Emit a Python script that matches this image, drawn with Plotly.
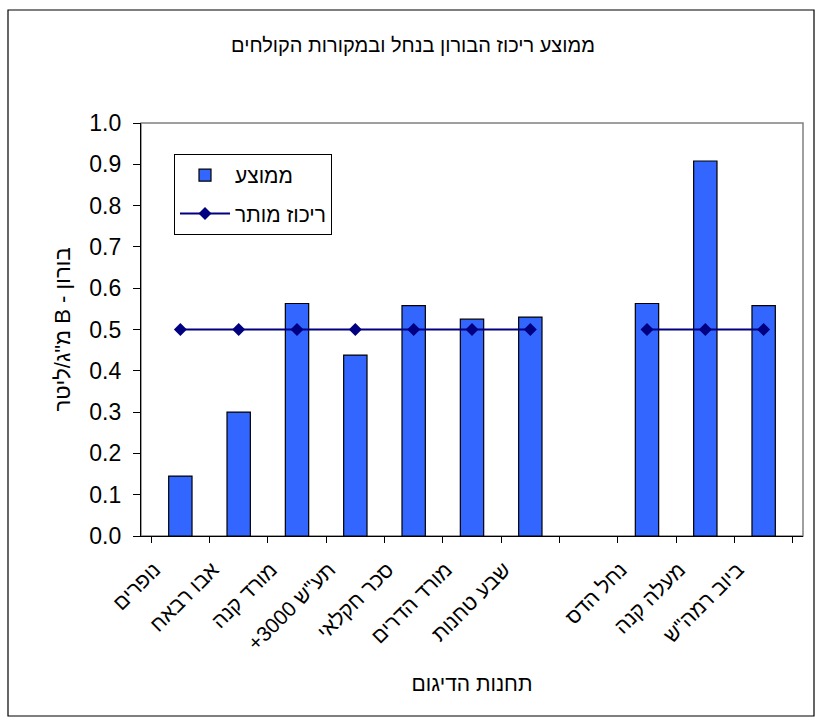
import plotly.graph_objects as go

# Sampling stations (blank slot separates stream stations from effluent sources)
stations = ["נופרים", "אבו רבאח", "מורד קנה", 'תע"ש 3000+', "סכר חקלאי",
            "מורד הדרים", "שבע טחנות", " ", "נחל הדס", "מעלה קנה", 'ביוב רמה"ש']
avg_boron = [0.145, 0.30, 0.563, 0.438, 0.558, 0.525, 0.530, None, 0.563, 0.908, 0.558]
allowed = [0.5, 0.5, 0.5, 0.5, 0.5, 0.5, 0.5, None, 0.5, 0.5, 0.5]
y_ticks = [0.0, 0.1, 0.2, 0.3, 0.4, 0.5, 0.6, 0.7, 0.8, 0.9, 1.0]

title_text = "ממוצע ריכוז הבורון בנחל ובמקורות הקולחים"
y_title = 'בורון - B מ"ג/ליטר'
x_title = "תחנות הדיגום"


def rtl(s):
    # right-to-left embedding so mixed Hebrew/Latin strings read correctly
    return "\u202B" + s + "\u202C"


FONT = "Liberation Sans, Arial, sans-serif"
W, H = 824, 725
L, R, T, B = 141, 21, 123, 189
pw, ph = W - L - R, H - T - B

fig = go.Figure()
fig.add_trace(go.Bar(
    x=stations, y=avg_boron, name="ממוצע", legendgroup="a",
    marker=dict(color="#3366FF", line=dict(color="#000000", width=1.2)),
))
fig.add_trace(go.Scatter(
    x=stations, y=allowed, name=rtl("ריכוז מותר"), mode="lines+markers",
    legendgroup="b",
    line=dict(color="#000080", width=2),
    marker=dict(symbol="diamond", size=10, color="#000080"),
    connectgaps=False,
))

shapes = [
    # plot-area frame
    dict(type="rect", xref="paper", yref="paper", x0=0, x1=1, y0=0, y1=1,
         line=dict(color="#808080", width=1.5), layer="below"),
    # chart-area frame
    dict(type="rect", xref="paper", yref="paper",
         x0=(8 - L) / pw, x1=(814 - L) / pw,
         y0=(H - B - 716) / ph, y1=(H - B - 10) / ph,
         line=dict(color="#000000", width=1.2)),
]

fig.update_layout(
    width=W, height=H, margin=dict(l=L, r=R, t=T, b=B, autoexpand=False),
    paper_bgcolor="white", plot_bgcolor="white",
    font=dict(family=FONT, size=20, color="#000000"),
    bargap=0.6, showlegend=True, shapes=shapes,
    title=dict(text=title_text, x=413 / W, xanchor="center",
               y=1 - 45 / H, yanchor="middle",
               font=dict(family=FONT, size=20)),
    legend=dict(x=(174 - L) / pw, y=(H - B - 154) / ph, xanchor="left", yanchor="top",
                bgcolor="white", bordercolor="#000000", borderwidth=1,
                font=dict(family=FONT, size=21), traceorder="grouped",
                tracegroupgap=8, itemwidth=50),
    xaxis=dict(
        type="category", categoryorder="array", categoryarray=stations,
        tickmode="array", tickvals=stations, ticktext=[rtl(s) for s in stations],
        tickangle=-45, tickson="boundaries", ticks="outside", ticklen=6,
        tickcolor="#000000", showline=True, linecolor="#000000", linewidth=1.2,
        showgrid=False, tickfont=dict(family=FONT, size=21),
        ticklabelstandoff=12, ticklabelshift=-26,
        title=dict(text=x_title, standoff=22, font=dict(family=FONT, size=21)),
    ),
    yaxis=dict(
        range=[0, 1], tickmode="array", tickvals=y_ticks,
        ticktext=[f"{v:.1f}" for v in y_ticks],
        ticks="outside", ticklen=7, tickcolor="#000000",
        showline=True, linecolor="#000000", linewidth=1.2, showgrid=False,
        zeroline=False, tickfont=dict(family=FONT, size=23),
        ticklabelstandoff=7,
        title=dict(text=rtl(y_title), standoff=12, font=dict(family=FONT, size=22)),
    ),
)

fig.write_html("out.html")
